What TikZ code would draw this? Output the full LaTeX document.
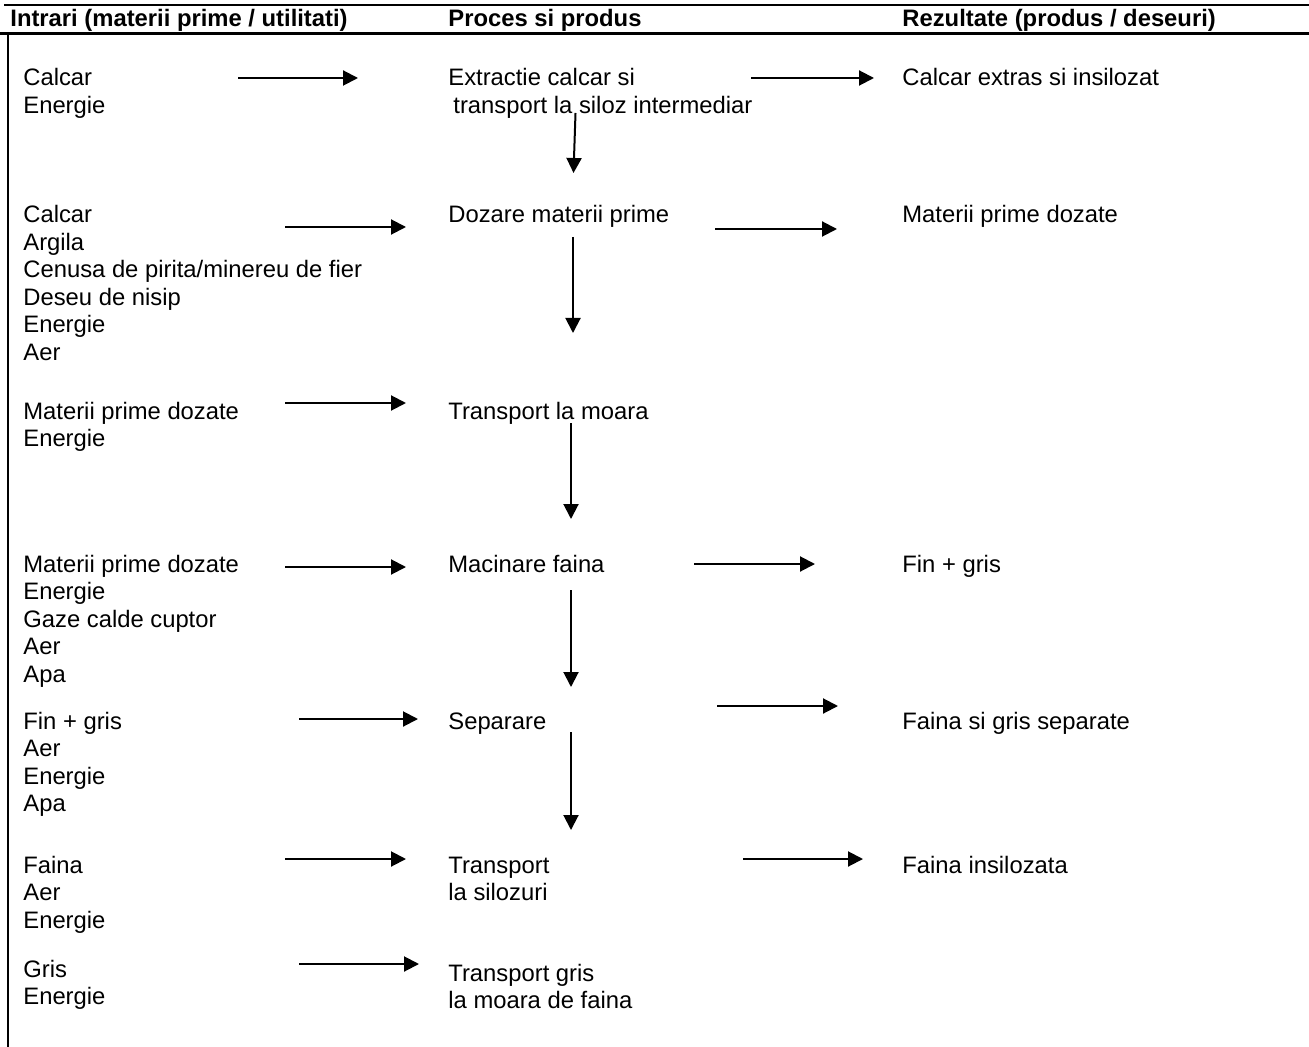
\documentclass[tikz,border=0pt]{standalone}
\usepackage{fontspec}
\setmainfont{Liberation Sans}
\usetikzlibrary{arrows.meta}
\tikzset{
  txt/.style={anchor=base west,inner sep=0pt,align=left,font=\fontsize{11.9pt}{13.75pt}\selectfont},
  hdr/.style={anchor=base west,inner sep=0pt,font=\fontsize{11.9pt}{13.75pt}\selectfont\bfseries},
  flow/.style={line width=1pt,-{Triangle[length=7.5pt,width=7.5pt]}},
  rule/.style={line width=1.1pt}
}
\begin{document}
\begin{tikzpicture}[x=0.5pt,y=-0.5pt]
\useasboundingbox (0,0) rectangle (1309,1047);
% table lines
\draw[rule] (4,5) -- (1309,5);
\draw[rule] (0,33.5) -- (1309,33.5);
\draw[rule] (8,33.5) -- (8,1047);
% headers
\node[hdr] (h1) at (10,27) {Intrari (materii prime / utilitati)};
\node[hdr] (h2) at (448,27) {Proces si produs};
\node[hdr] (h3) at (902,27) {Rezultate (produs / deseuri)};
% multi-line nodes are placed by the baseline of their last line
% row 1
\node[txt] (l1) at (23,113.5) {Calcar\\Energie};
\node[txt] (m1) at (448,113.5) {Extractie calcar si\\\hspace*{2.5pt}transport la siloz intermediar};
\node[txt] (r1) at (902,86) {Calcar extras si insilozat};
% row 2
\node[txt] (l2) at (23,360.5) {Calcar\\Argila\\Cenusa de pirita/minereu de fier\\Deseu de nisip\\Energie\\Aer};
\node[txt] (m2) at (448,223) {Dozare materii prime};
\node[txt] (r2) at (902,223) {Materii prime dozate};
% row 3
\node[txt] (l3) at (23,446.5) {Materii prime dozate\\Energie};
\node[txt] (m3) at (448,419) {Transport la moara};
% row 4
\node[txt] (l4) at (23,682) {Materii prime dozate\\Energie\\Gaze calde cuptor\\Aer\\Apa};
\node[txt] (m4) at (448,572) {Macinare faina};
\node[txt] (r4) at (902,572) {Fin + gris};
% row 5
\node[txt] (l5) at (23,811.5) {Fin + gris\\Aer\\Energie\\Apa};
\node[txt] (m5) at (448,729) {Separare};
\node[txt] (r5) at (902,729) {Faina si gris separate};
% row 6
\node[txt] (l6) at (23,928) {Faina\\Aer\\Energie};
\node[txt] (m6) at (448,900.5) {Transport\\la silozuri};
\node[txt] (r6) at (902,873) {Faina insilozata};
% row 7
\node[txt] (l7) at (23,1004.5) {Gris\\Energie};
\node[txt] (m7) at (448,1008.5) {Transport gris\\la moara de faina};
% arrow end points
\coordinate (a1s) at (238,78);  \coordinate (a1e) at (358,78);
\coordinate (a2s) at (751,78);  \coordinate (a2e) at (874,78);
\coordinate (v1s) at (575.5,113); \coordinate (v1e) at (573.5,173);
\coordinate (a3s) at (285,227); \coordinate (a3e) at (406,227);
\coordinate (a4s) at (715,229); \coordinate (a4e) at (837,229);
\coordinate (v2s) at (573,237); \coordinate (v2e) at (573,333);
\coordinate (a5s) at (285,403); \coordinate (a5e) at (406,403);
\coordinate (v3s) at (571,423); \coordinate (v3e) at (571,519);
\coordinate (a6s) at (285,567); \coordinate (a6e) at (406,567);
\coordinate (a7s) at (694,564); \coordinate (a7e) at (815,564);
\coordinate (v4s) at (571,590); \coordinate (v4e) at (571,687);
\coordinate (a8s) at (299,719); \coordinate (a8e) at (418,719);
\coordinate (a9s) at (717,706); \coordinate (a9e) at (838,706);
\coordinate (v5s) at (571,732); \coordinate (v5e) at (571,830);
\coordinate (a10s) at (285,859); \coordinate (a10e) at (406,859);
\coordinate (a11s) at (743,859); \coordinate (a11e) at (863,859);
\coordinate (a12s) at (299,964); \coordinate (a12e) at (419,964);
% arrows
\foreach \a in {a1,a2,v1,a3,a4,v2,a5,v3,a6,a7,v4,a8,a9,v5,a10,a11,a12}
  \draw[flow] (\a s) -- (\a e);
\end{tikzpicture}
\end{document}
